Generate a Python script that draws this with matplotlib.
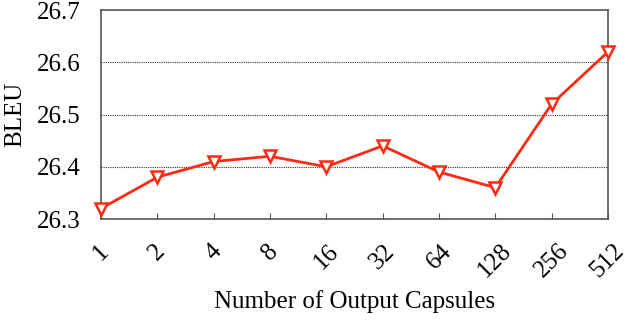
import matplotlib
matplotlib.use("Agg")
import matplotlib.pyplot as plt

# data
capsules = ["1", "2", "4", "8", "16", "32", "64", "128", "256", "512"]
bleu = [26.32, 26.38, 26.41, 26.42, 26.40, 26.44, 26.39, 26.36, 26.52, 26.62]
y_ticks = [26.3, 26.4, 26.5, 26.6, 26.7]

plt.rcParams["font.family"] = ["Liberation Serif", "DejaVu Serif"]

fig = plt.figure(figsize=(6.28, 3.26), dpi=100)
ax = fig.add_axes([101 / 628, 1 - 219 / 326, 507 / 628, 209 / 326])

x = list(range(len(capsules)))
ax.plot(x, bleu, color="#ff2a12", linewidth=2, marker="v", markersize=9,
        markerfacecolor="white", markeredgecolor="#ff2a12", markeredgewidth=1.8,
        clip_on=False, zorder=3)

ax.set_xlim(0, len(capsules) - 1)
ax.set_ylim(26.3, 26.7)
ax.set_xticks(x)
ax.set_xticklabels(capsules, rotation=45, ha="center", va="top", fontsize=18)
ax.set_yticks(y_ticks)
ax.set_yticklabels([f"{v:.1f}" for v in y_ticks], fontsize=18)

for v in y_ticks[1:-1]:
    ax.axhline(v, color="#333333", linestyle=(0, (1, 1)), linewidth=0.8, zorder=1)

for s in ax.spines.values():
    s.set_color("#555555")
    s.set_linewidth(1.2)

ax.tick_params(axis="x", direction="in", length=4, color="#555555", pad=15)
ax.tick_params(axis="y", length=0, pad=15)

ax.set_ylabel("BLEU", fontsize=18, labelpad=7)
ax.set_xlabel("Number of Output Capsules", fontsize=18, labelpad=6)

fig.savefig("out.png", dpi=100)
